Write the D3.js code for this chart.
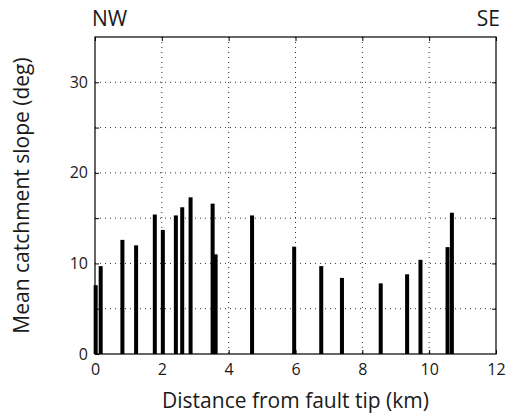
<!DOCTYPE html>
<meta charset="utf-8">
<html>
  <style>
    body { margin: 0; background: #fff; }
    text { font-family: "Open Sans", sans-serif; fill: #1a1a1a; }
    .grid line { stroke: #333; stroke-width: 1px; stroke-dasharray: 1,4; }
  </style>
  <head>
    <script src="https://d3js.org/d3.v7.min.js"></script>
  </head>
  <body>
    <script>
      // distance along fault (km) and mean slope (deg) for each catchment
      var distances = [0.02, 0.17, 0.82, 1.23, 1.79, 2.03, 2.42, 2.61, 2.86, 3.52, 3.61,
                       4.70, 5.96, 6.77, 7.39, 8.55, 9.34, 9.74, 10.55, 10.68];
      var slopes = [7.6, 9.7, 12.6, 12.0, 15.4, 13.7, 15.3, 16.2, 17.3, 16.6, 11.0,
                    15.3, 11.85, 9.7, 8.4, 7.8, 8.8, 10.4, 11.8, 15.6];
      var xTicks = [0, 2, 4, 6, 8, 10, 12];
      var yTicks = [0, 10, 20, 30];
      var yGrid = [5, 10, 15, 20, 25, 30];

      var margin = {top: 37, right: 12, bottom: 63, left: 95},
          width = 508 - margin.left - margin.right,
          height = 417 - margin.top - margin.bottom;

      var svg = d3.select("body").append("svg")
          .attr("width", 508)
          .attr("height", 417);
      var g = svg.append("g")
          .attr("transform", "translate(" + margin.left + "," + margin.top + ")");

      var x = d3.scaleLinear().domain([0, 12]).range([0, width]);
      var y = d3.scaleLinear().domain([0, 35]).range([height, 0]);
      var barW = x(0.12) - x(0);

      // dotted grid
      var grid = g.append("g").attr("class", "grid");
      grid.selectAll(".gx").data(xTicks.slice(1, -1)).enter().append("line")
          .attr("x1", d => x(d)).attr("x2", d => x(d))
          .attr("y1", 0).attr("y2", height);
      grid.selectAll(".gy").data(yGrid).enter().append("line")
          .attr("x1", 0).attr("x2", width)
          .attr("y1", d => y(d)).attr("y2", d => y(d));

      // bars
      g.selectAll(".bar").data(distances).enter().append("rect")
          .attr("x", (d, i) => x(d) - barW / 2)
          .attr("y", (d, i) => y(slopes[i]))
          .attr("width", barW)
          .attr("height", (d, i) => height - y(slopes[i]))
          .attr("fill", "#000");

      // axes with inward ticks on all four sides
      function styleAxis(sel) {
        sel.select(".domain").remove();
        sel.selectAll("line").attr("stroke", "#000");
        sel.selectAll("text").style("font-size", "16px").attr("fill", "#1a1a1a");
      }
      g.append("g").attr("transform", "translate(0," + height + ")")
          .call(d3.axisBottom(x).tickValues(xTicks).tickSize(-4).tickPadding(10))
          .call(styleAxis);
      g.append("g")
          .call(d3.axisLeft(y).tickValues(yGrid.concat([0])).tickSize(-4).tickPadding(7)
                .tickFormat(d => yTicks.indexOf(d) >= 0 ? d : ""))
          .call(styleAxis);
      g.append("g")
          .call(d3.axisTop(x).tickValues(xTicks).tickSize(-4).tickFormat(""))
          .call(styleAxis);
      g.append("g").attr("transform", "translate(" + width + ",0)")
          .call(d3.axisRight(y).tickValues(yGrid).tickSize(-4).tickFormat(""))
          .call(styleAxis);

      g.append("rect")
          .attr("width", width).attr("height", height)
          .attr("fill", "none").attr("stroke", "#000").attr("stroke-width", 1.2);

      // labels
      svg.append("text")
          .attr("x", margin.left + width / 2).attr("y", 408)
          .attr("text-anchor", "middle").style("font-size", "21px")
          .text("Distance from fault tip (km)");
      svg.append("text")
          .attr("text-anchor", "middle").style("font-size", "21px")
          .attr("transform", "translate(29," + (margin.top + height / 2) + ")rotate(-90)")
          .text("Mean catchment slope (deg)");
      svg.append("text")
          .attr("x", 92).attr("y", 26).style("font-size", "21px").text("NW");
      svg.append("text")
          .attr("x", 500).attr("y", 26).attr("text-anchor", "end")
          .style("font-size", "21px").text("SE");
    </script>
  </body>
</html>
